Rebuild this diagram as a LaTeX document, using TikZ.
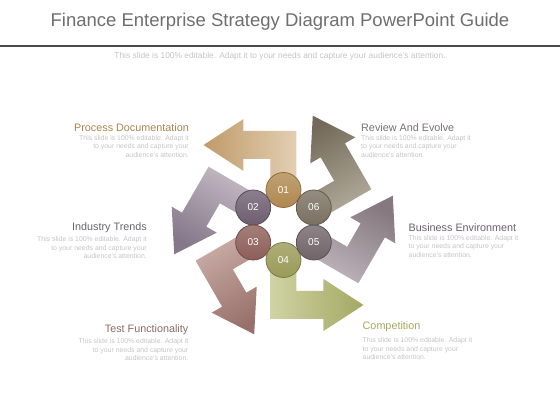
\documentclass[tikz,border=0pt]{standalone}
\usepackage{fontspec}
\setmainfont{Liberation Sans}
\usetikzlibrary{positioning}

% arrow colours (tip side / circle side)
\definecolor{aAd}{HTML}{C09A6A}\definecolor{aAl}{HTML}{E2CFB2}
\definecolor{aBd}{HTML}{85788A}\definecolor{aBl}{HTML}{C6BCC6}
\definecolor{aCd}{HTML}{98706A}\definecolor{aCl}{HTML}{CBAEA8}
\definecolor{aDd}{HTML}{A4A862}\definecolor{aDl}{HTML}{D0D3A4}
\definecolor{aEd}{HTML}{85787F}\definecolor{aEl}{HTML}{C0B6BC}
\definecolor{aFd}{HTML}{736A5A}\definecolor{aFl}{HTML}{B4AC9C}
% circle colours
\definecolor{cA}{HTML}{B08850}
\definecolor{cB}{HTML}{6E5E70}
\definecolor{cC}{HTML}{8E5E58}
\definecolor{cD}{HTML}{9A9A58}
\definecolor{cE}{HTML}{716468}
\definecolor{cF}{HTML}{7A7060}
% label colours
\definecolor{lA}{HTML}{A8844F}
\definecolor{lB}{HTML}{66636B}
\definecolor{lC}{HTML}{8A6A66}
\definecolor{lD}{HTML}{A5A65C}
\definecolor{lE}{HTML}{66616A}
\definecolor{lF}{HTML}{75716A}
\definecolor{headC}{HTML}{6E6E6E}
\definecolor{descC}{HTML}{C4C4C4}
\definecolor{ruleC}{HTML}{4A4A4A}

\begin{document}
\begin{tikzpicture}[x=1pt, y=1pt,
    pics/bent/.style n args={3}{code={\shade[left color=#1, right color=#2, shading angle=#3] (13,30) -- (13,94) -- (-40,94) -- (-40,106) -- (-80,80) -- (-40,54) -- (-40,66) -- (-13,66) -- (-13,30) -- cycle;}},
    num/.style={circle, minimum size=35pt, inner sep=0, line width=0.8pt, text=white, font=\fontsize{10}{10}\selectfont},
    head/.style={inner sep=0, font=\fontsize{10.8}{11}\selectfont},
    desc/.style={inner sep=0, text=descC, font=\fontsize{6.9}{8.6}\selectfont}]
    \useasboundingbox (-283.5,-195) rectangle (276.5,225);
    % header
    \node[inner sep=0, text=headC, font=\fontsize{18.5}{20}\selectfont] (title) at (-3.5,203) {Finance Enterprise Strategy Diagram PowerPoint Guide};
    \coordinate (rulel) at (-283.5,179);
    \coordinate (ruler) at (276.5,179);
    \draw[ruleC, line width=1.5pt] (rulel) -- (ruler);
    \node[desc, font=\fontsize{8.4}{9}\selectfont] (sub) at (-3.5,169) {This slide is 100\% editable. Adapt it to your needs and capture your audience's attention.};
    % arrows
    \pic[rotate=0] (arrA) {bent={aAd}{aAl}{90}};
    \pic[rotate=60] (arrB) {bent={aBd}{aBl}{150}};
    \pic[rotate=120] (arrC) {bent={aCd}{aCl}{210}};
    \pic[rotate=180] (arrD) {bent={aDd}{aDl}{270}};
    \pic[rotate=240] (arrE) {bent={aEd}{aEl}{330}};
    \pic[rotate=300] (arrF) {bent={aFd}{aFl}{30}};
    % circles
    \node[num, draw=cA!80!black, top color=cA!80!white, bottom color=cA] (cA) at (90:35) {01};
    \node[num, draw=cB!80!black, top color=cB!80!white, bottom color=cB] (cB) at (150:35) {02};
    \node[num, draw=cC!80!black, top color=cC!80!white, bottom color=cC] (cC) at (210:35) {03};
    \node[num, draw=cD!80!black, top color=cD!80!white, bottom color=cD] (cD) at (270:35) {04};
    \node[num, draw=cE!80!black, top color=cE!80!white, bottom color=cE] (cE) at (330:35) {05};
    \node[num, draw=cF!80!black, top color=cF!80!white, bottom color=cF] (cF) at (30:35) {06};
    % labels
    \node[head, text=lA, anchor=east] (tA) at (-94.5,97) {Process Documentation};
    \node[desc, below=3pt of tA.south east, anchor=north east, align=right] (dA) {This slide is 100\% editable. Adapt it\\to your needs and capture your\\audience's attention.};
    \node[head, text=lB, anchor=east] (tB) at (-136.5,-3) {Industry Trends};
    \node[desc, below=3pt of tB.south east, anchor=north east, align=right] (dB) {This slide is 100\% editable. Adapt it\\to your needs and capture your\\audience's attention.};
    \node[head, text=lC, anchor=east] (tC) at (-95,-105) {Test Functionality};
    \node[desc, below=3pt of tC.south east, anchor=north east, align=right] (dC) {This slide is 100\% editable. Adapt it\\to your needs and capture your\\audience's attention.};
    \node[head, text=lD, anchor=west] (tD) at (79,-102) {Competition};
    \node[desc, below=5pt of tD.south west, anchor=north west, align=left] (dD) {This slide is 100\% editable. Adapt it\\to your needs and capture your\\audience's attention.};
    \node[head, text=lE, anchor=west] (tE) at (125,-3) {Business Environment};
    \node[desc, below=3pt of tE.south west, anchor=north west, align=left] (dE) {This slide is 100\% editable. Adapt it\\to your needs and capture your\\audience's attention.};
    \node[head, text=lF, anchor=west] (tF) at (77.5,97) {Review And Evolve};
    \node[desc, below=3pt of tF.south west, anchor=north west, align=left] (dF) {This slide is 100\% editable. Adapt it\\to your needs and capture your\\audience's attention.};
\end{tikzpicture}
\end{document}
